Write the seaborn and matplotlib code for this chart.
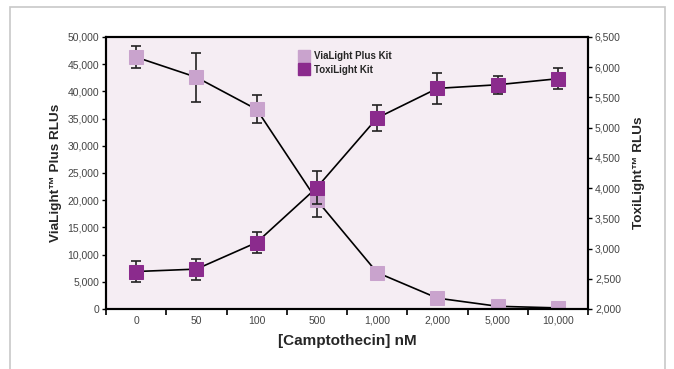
import matplotlib
matplotlib.use("Agg")
import matplotlib.pyplot as plt
from matplotlib.lines import Line2D
from matplotlib.patches import Rectangle
from matplotlib.ticker import FixedLocator, FuncFormatter
import seaborn as sns
import numpy as np

# data
conc_labels = ["0", "50", "100", "500", "1,000", "2,000", "5,000", "10,000"]
via_rlu = [46300, 42600, 36700, 20000, 6700, 2000, 500, 200]
via_err = [2000, 4500, 2600, 3000, 0, 0, 0, 0]
toxi_rlu = [2620, 2660, 3100, 4010, 5160, 5650, 5710, 5810]
toxi_err = [170, 175, 170, 275, 210, 255, 150, 175]

via_color = "#c9a3cd"
toxi_color = "#8b2b8d"
bg_color = "#f5edf3"

sns.set_style("white")
plt.rcParams["font.family"] = ["Liberation Sans Narrow", "Liberation Sans", "DejaVu Sans"]

fig = plt.figure(figsize=(6.74, 3.69), dpi=100)
ax = fig.add_axes([106 / 674, 1 - 309 / 369, (588 - 106) / 674, (309 - 37) / 369])
ax2 = ax.twinx()

x = np.arange(len(conc_labels))

# error bars first so the markers sit on top
ax.errorbar(x, via_rlu, yerr=via_err, fmt="none", ecolor="#222222", elinewidth=1.2, capsize=3.5, capthick=1.2, zorder=1)
sns.lineplot(x=x, y=via_rlu, ax=ax, color="black", lw=1.2, marker="s", markersize=10,
             markerfacecolor=via_color, markeredgecolor=via_color, zorder=2)

ax2.errorbar(x, toxi_rlu, yerr=toxi_err, fmt="none", ecolor="#222222", elinewidth=1.2, capsize=3.5, capthick=1.2, zorder=1)
sns.lineplot(x=x, y=toxi_rlu, ax=ax2, color="black", lw=1.2, marker="s", markersize=10,
             markerfacecolor=toxi_color, markeredgecolor=toxi_color, zorder=2)

ax.set_facecolor(bg_color)
ax2.patch.set_visible(False)

ax.set_xlim(-0.5, len(conc_labels) - 0.5)
ax.set_ylim(0, 50000)
ax2.set_ylim(2000, 6500)

thousands = FuncFormatter(lambda v, p: f"{int(v):,}")
ax.yaxis.set_major_locator(FixedLocator(np.arange(0, 50001, 5000)))
ax.yaxis.set_major_formatter(thousands)
ax2.yaxis.set_major_locator(FixedLocator(np.arange(2000, 6501, 500)))
ax2.yaxis.set_major_formatter(thousands)

ax.set_xticks(x)
ax.set_xticklabels(conc_labels)
ax.set_xticks(np.arange(-0.5, len(conc_labels)), minor=True)
ax.tick_params(axis="x", which="major", length=0, pad=5, labelsize=7.5, labelcolor="#444444")
ax.tick_params(axis="x", which="minor", length=4, width=1.2, direction="out", color="black", bottom=True)
ax.tick_params(axis="y", length=3, width=1, direction="out", color="black", left=True, pad=2,
               labelsize=7.5, labelcolor="#444444")
ax2.tick_params(axis="y", length=3, width=1, direction="out", color="black", right=True, pad=2,
                labelsize=7.5, labelcolor="#444444")

for a in (ax, ax2):
    for s in a.spines.values():
        s.set_color("black")
        s.set_linewidth(1.5)

ax.set_xlabel("[Camptothecin] nM", fontsize=11, fontweight="bold", labelpad=6,
              family=["Liberation Sans", "DejaVu Sans"])
ax.set_ylabel("ViaLight\u2122 Plus RLUs", fontsize=9.7, fontweight="bold", labelpad=4,
              family=["Liberation Sans", "DejaVu Sans"])
ax2.set_ylabel("ToxiLight\u2122 RLUs", fontsize=9.7, fontweight="bold", labelpad=9,
               rotation=90, family=["Liberation Sans", "DejaVu Sans"])

handles = [
    Line2D([], [], ls="none", marker="s", markersize=9, markerfacecolor=via_color, markeredgecolor=via_color),
    Line2D([], [], ls="none", marker="s", markersize=9, markerfacecolor=toxi_color, markeredgecolor=toxi_color),
]
ax2.legend(handles, ["ViaLight Plus Kit", "ToxiLight Kit"], loc="upper left",
           bbox_to_anchor=(0.382, 0.98), frameon=False, handlelength=1.0, handletextpad=0.6,
           labelspacing=0.35, prop={"weight": "bold", "size": 7})

# light grey frame around the figure
fig.patches.append(Rectangle((10 / 674, -0.1), (665 - 10) / 674, 1.1 - 7 / 369, transform=fig.transFigure,
                             fill=False, edgecolor="#c8c8c8", lw=1.2, figure=fig))

fig.savefig("out.png", dpi=100)
